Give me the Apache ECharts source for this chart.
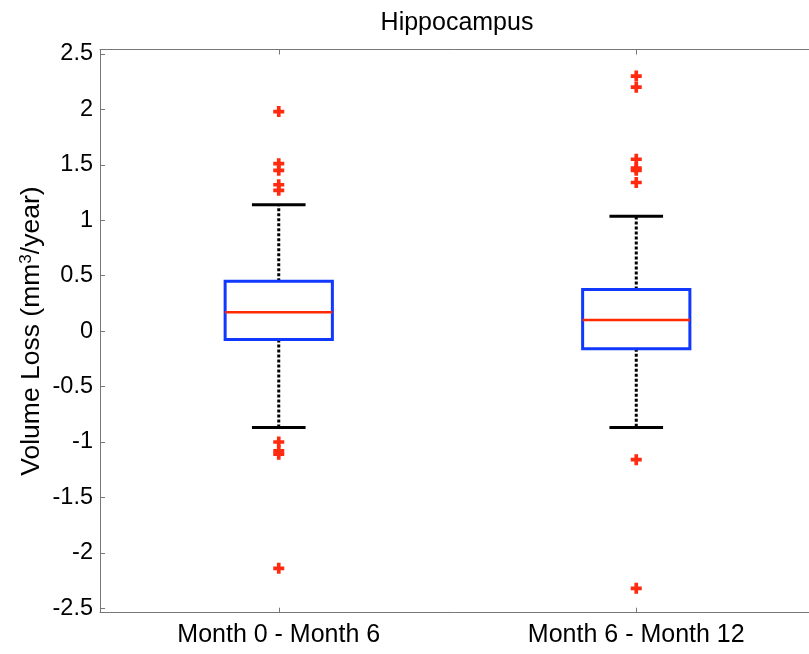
<!DOCTYPE html>
<html>
<head>
<meta charset="utf-8">
<title>Hippocampus</title>
<script src="https://cdn.jsdelivr.net/npm/echarts@6/dist/echarts.min.js"></script>
<style>
  html, body { margin: 0; padding: 0; background: #fff; }
  #chart { width: 809px; height: 654px; }
</style>
</head>
<body>
<div id="chart"></div>
<script>
  // data
  var categories = ['Month 0 - Month 6', 'Month 6 - Month 12'];
  var whiskerLow = [-0.87, -0.87];
  var q1 = [-0.075, -0.16];
  var median = [0.17, 0.10];
  var q3 = [0.45, 0.375];
  var whiskerHigh = [1.14, 1.035];
  var outliers1 = [1.98, 1.51, 1.45, 1.32, 1.27, -1.00, -1.08, -1.11, -2.14];
  var outliers2 = [2.30, 2.20, 1.55, 1.47, 1.45, 1.34, -1.16, -2.32];
  var yTicks = [-2.5, -2, -1.5, -1, -0.5, 0, 0.5, 1, 1.5, 2, 2.5];

  var FONT = 'Liberation Sans, Arial, Helvetica, sans-serif';
  var AXIS_COLOR = '#777';

  var boxData = categories.map(function (c, i) {
    return [i, whiskerLow[i], q1[i], median[i], q3[i], whiskerHigh[i]];
  });
  var outlierData = [];
  outliers1.forEach(function (v) { outlierData.push([0, v]); });
  outliers2.forEach(function (v) { outlierData.push([1, v]); });

  function renderBox(params, api) {
    var x = api.value(0);
    var pLow = api.coord([x, api.value(1)]);
    var pQ1 = api.coord([x, api.value(2)]);
    var pMed = api.coord([x, api.value(3)]);
    var pQ3 = api.coord([x, api.value(4)]);
    var pHigh = api.coord([x, api.value(5)]);
    var bw = api.size([1, 0])[0] * 0.3;
    var cx = pMed[0];
    var cap = bw / 4;
    var dotted = { stroke: '#000', lineWidth: 3, lineDash: [3, 2] };
    var solid = { stroke: '#000', lineWidth: 3 };
    return {
      type: 'group',
      children: [
        { type: 'line', shape: { x1: cx, y1: pQ3[1], x2: cx, y2: pHigh[1] }, style: dotted },
        { type: 'line', shape: { x1: cx, y1: pQ1[1], x2: cx, y2: pLow[1] }, style: dotted },
        { type: 'line', shape: { x1: cx - cap, y1: pHigh[1], x2: cx + cap, y2: pHigh[1] }, style: solid },
        { type: 'line', shape: { x1: cx - cap, y1: pLow[1], x2: cx + cap, y2: pLow[1] }, style: solid },
        {
          type: 'rect',
          shape: { x: cx - bw / 2, y: pQ3[1], width: bw, height: pQ1[1] - pQ3[1] },
          style: { fill: '#fff', stroke: '#1038ff', lineWidth: 3 }
        },
        {
          type: 'line',
          shape: { x1: cx - bw / 2, y1: pMed[1], x2: cx + bw / 2, y2: pMed[1] },
          style: { stroke: '#ff2a00', lineWidth: 2.5 }
        }
      ]
    };
  }

  var yAxisBase = {
    type: 'value',
    min: -2.54,
    max: 2.54,
    splitLine: { show: false },
    axisLine: { show: true, onZero: false, lineStyle: { color: AXIS_COLOR, width: 1 } },
    axisTick: { show: true, inside: true, length: 5, customValues: yTicks, lineStyle: { color: AXIS_COLOR } }
  };
  var xAxisBase = {
    type: 'category',
    data: categories,
    axisLine: { show: true, onZero: false, lineStyle: { color: AXIS_COLOR } },
    axisTick: { show: true, inside: true, length: 5, alignWithLabel: true, lineStyle: { color: AXIS_COLOR } }
  };

  var chart = echarts.init(document.getElementById('chart'));
  chart.setOption({
    animation: false,
    backgroundColor: '#fff',
    title: {
      text: 'Hippocampus',
      left: 452,
      top: 6,
      textAlign: 'center',
      textStyle: { fontFamily: FONT, fontSize: 25, fontWeight: 'normal', color: '#000' }
    },
    grid: {
      left: 100, width: 715, top: 49.5, bottom: 41.3,
      containLabel: false, outerBoundsMode: 'none'
    },
    xAxis: [
      Object.assign({}, xAxisBase, {
        position: 'bottom',
        axisLabel: { color: '#000', fontFamily: FONT, fontSize: 25, margin: 10 }
      }),
      Object.assign({}, xAxisBase, {
        position: 'top',
        axisLabel: { show: false }
      })
    ],
    yAxis: [
      Object.assign({}, yAxisBase, {
        position: 'left',
        name: 'Volume Loss (mm{sup|3}/year)',
        nameLocation: 'middle',
        nameGap: 54,
        nameMoveOverlap: false,
        nameTextStyle: {
          color: '#000', fontFamily: FONT, fontSize: 26.5,
          rich: { sup: { fontFamily: FONT, fontSize: 17, color: '#000', verticalAlign: 'top', padding: [0, 0, 11, 0] } }
        },
        axisLabel: {
          customValues: yTicks,
          color: '#000', fontFamily: FONT, fontSize: 23.5, margin: 7,
          formatter: function (v) { return String(v); }
        }
      }),
      Object.assign({}, yAxisBase, {
        position: 'right',
        axisLabel: { show: false }
      })
    ],
    series: [
      {
        type: 'custom',
        xAxisIndex: 0,
        yAxisIndex: 0,
        renderItem: renderBox,
        encode: { x: 0, y: [1, 2, 3, 4, 5] },
        data: boxData,
        z: 2
      },
      {
        type: 'scatter',
        xAxisIndex: 0,
        yAxisIndex: 0,
        symbol: 'path://M3,0h3v3h3v3h-3v3h-3v-3h-3v-3h3z',
        symbolSize: 11,
        itemStyle: { color: '#ff2a10', opacity: 1 },
        data: outlierData,
        z: 3
      }
    ]
  });
</script>
</body>
</html>
